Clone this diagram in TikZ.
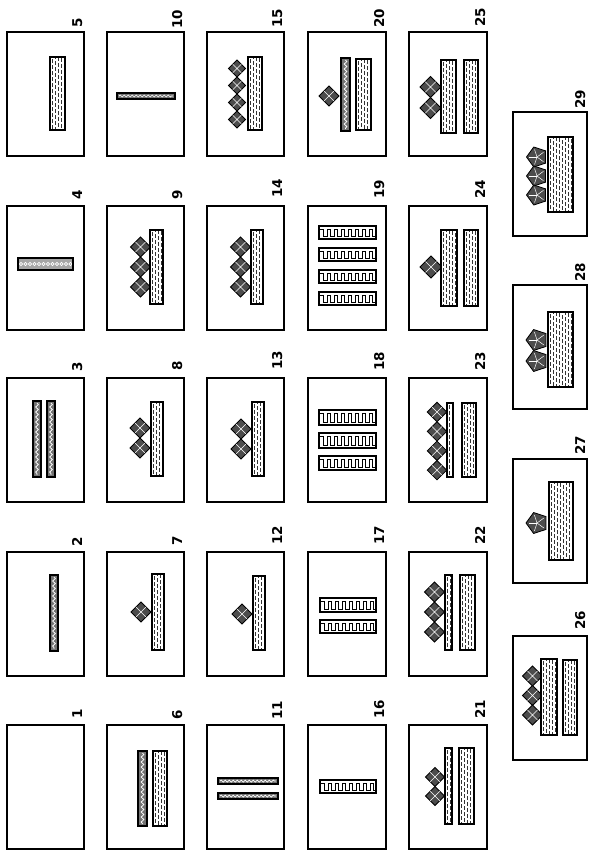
\documentclass[tikz,border=0pt]{standalone}
\usepackage{fontspec}
\setmainfont{DejaVu Sans}
\usetikzlibrary{decorations.pathmorphing}
\tikzset{
  pagebox/.style={draw, line width=2.4pt, minimum height=124pt, inner sep=0pt, outer sep=0pt, anchor=north west},
  stripline/.style={draw=black, line width=1.3pt},
  grain/.style={line width=0.8pt, dash pattern=on 3.5pt off 2.5pt, black!80},
  numlabel/.style={rotate=90, anchor=base west, inner sep=0pt, font=\bfseries\fontsize{13.5}{14}\selectfont},
  diamfill/.style={fill=black!70, draw=black, line width=0.8pt},
}
\newcommand\pagebx[5]{%
  \node[pagebox, minimum width=#4pt] (box#1) at (#2,#3) {};
  \node[numlabel] (num#1) at ({#2+#4-2},{#3-#5}) {#1};
}
\newcommand\woodstrip[4]{%
  \fill[white] (#1,#2) rectangle (#3,#4);
  \begin{scope}
    \clip (#1,#2) rectangle (#3,#4);
    \foreach \k in {1,...,9}{
      \draw[grain] ({#1+\k*3-0.5},{#2+1-mod(\k*5,7)}) -- ({#1+\k*3-0.5},{#4});
    }
  \end{scope}
  \draw[stripline] (#1,#2) rectangle (#3,#4);
}
\newcommand\darkstrip[4]{%
  \fill[black!55] (#1,#2) rectangle (#3,#4);
  \draw[white, line width=0.8pt, decorate, decoration={snake, segment length=5pt, amplitude=1.3pt}] ({(#1+#3)/2},{#2+2}) -- ({(#1+#3)/2},{#4-2});
  \draw[stripline] (#1,#2) rectangle (#3,#4);
}
\newcommand\hdark[4]{%
  \fill[black!55] (#1,#2) rectangle (#3,#4);
  \draw[white, line width=0.7pt, decorate, decoration={snake, segment length=4pt, amplitude=1pt}] ({#1+2},{(#2+#4)/2}) -- ({#3-2},{(#2+#4)/2});
  \draw[stripline] (#1,#2) rectangle (#3,#4);
}
\newcommand\combstrip[4]{%
  \fill[white] (#1,#2) rectangle (#3,#4);
  \begin{scope}
    \clip (#1,#2) rectangle (#3,#4);
    \foreach \k in {0,...,10}{
      \draw[line width=1pt] ({#1+1+\k*7},{#2+3}) -- ++(3.5,0) -- ++(0,{#4-#2-6}) -- ++(3.5,0) -- ++(0,{-(#4-#2-6)});
    }
  \end{scope}
  \draw[stripline] (#1,#2) rectangle (#3,#4);
}
\newcommand\dotstrip[4]{%
  \fill[black!35] (#1,#2) rectangle (#3,#4);
  \begin{scope}
    \clip (#1,#2) rectangle (#3,#4);
    \foreach \k in {0,...,12}{
      \draw[white, line width=0.7pt] ({#1+3+\k*4.5},{(#2+#4)/2}) circle (1.7pt);
    }
  \end{scope}
  \draw[stripline] (#1,#2) rectangle (#3,#4);
}
\newcommand\diam[3]{%
  \path[diamfill] ({#1-#3},{#2}) -- ({#1},{#2-#3}) -- ({#1+#3},{#2}) -- ({#1},{#2+#3}) -- cycle;
  \draw[white, line width=0.5pt] ({#1-#3/2},{#2-#3/2}) -- ({#1+#3/2},{#2+#3/2}) ({#1+#3/2},{#2-#3/2}) -- ({#1-#3/2},{#2+#3/2});
}
\newcommand\rosette[3]{%
  \path[diamfill] ({#1-#3},{#2}) -- ({#1+#3*cos(252)},{#2+#3*sin(252)}) -- ({#1+#3*cos(324)},{#2+#3*sin(324)}) -- ({#1+#3*cos(36)},{#2+#3*sin(36)}) -- ({#1+#3*cos(108)},{#2+#3*sin(108)}) -- cycle;
  \foreach \a in {180,252,324,36,108}{
    \draw[white, line width=0.5pt] ({#1},{#2}) -- ({#1+0.75*#3*cos(\a)},{#2+0.75*#3*sin(\a)});
  }
}
\newenvironment{inbox}[2]{\begin{scope}[shift={(#1,#2)}]}{\end{scope}}

\begin{document}
\begin{tikzpicture}[x=1pt,y=-1pt]
\useasboundingbox (0,0) rectangle (589,854);
\fill[white] (0,0) rectangle (589,854);

% column 1
\pagebx{1}{7}{725}{77}{6}
\pagebx{2}{7}{552}{77}{5}
\pagebx{3}{7}{378}{77}{6}
\pagebx{4}{7}{206}{77}{6}
\pagebx{5}{7}{32}{77}{4}
\begin{inbox}{7}{552}\darkstrip{43}{23}{51}{99}\end{inbox}
\begin{inbox}{7}{378}\darkstrip{26}{23}{34}{99}\darkstrip{40}{23}{48}{99}\end{inbox}
\begin{inbox}{7}{206}\dotstrip{11}{52}{66}{64}\end{inbox}
\begin{inbox}{7}{32}\woodstrip{43}{25}{58}{98}\end{inbox}

% column 2
\pagebx{6}{107}{725}{77}{5}
\pagebx{7}{107}{552}{77}{6}
\pagebx{8}{107}{378}{77}{7}
\pagebx{9}{107}{206}{77}{6}
\pagebx{10}{107}{32}{77}{3}
\begin{inbox}{107}{725}\darkstrip{31}{26}{40}{101}\woodstrip{46}{26}{60}{101}\end{inbox}
\begin{inbox}{107}{552}\diam{34}{60}{10}\woodstrip{45}{22}{57}{98}\end{inbox}
\begin{inbox}{107}{378}\diam{33}{50}{10}\diam{33}{70}{10}\woodstrip{44}{24}{56}{98}\end{inbox}
\begin{inbox}{107}{206}\diam{33.5}{41}{10}\diam{33.5}{61}{10}\diam{33.5}{81}{10}\woodstrip{43}{24}{56}{98}\end{inbox}
\begin{inbox}{107}{32}\hdark{10}{61}{68}{67}\end{inbox}

% column 3
\pagebx{11}{207}{725}{77}{5}
\pagebx{12}{207}{552}{77}{7}
\pagebx{13}{207}{378}{77}{8}
\pagebx{14}{207}{206}{77}{8}
\pagebx{15}{207}{32}{77}{4}
\begin{inbox}{207}{725}\hdark{11}{53}{71}{59}\hdark{11}{68}{71}{74}\end{inbox}
\begin{inbox}{207}{552}\diam{35}{62}{10}\woodstrip{46}{24}{58}{98}\end{inbox}
\begin{inbox}{207}{378}\diam{34}{51}{10}\diam{34}{71}{10}\woodstrip{45}{24}{57}{98}\end{inbox}
\begin{inbox}{207}{206}\diam{33.5}{41}{10}\diam{33.5}{61}{10}\diam{33.5}{81}{10}\woodstrip{44}{24}{56}{98}\end{inbox}
\begin{inbox}{207}{32}\diam{30}{36.5}{8.5}\diam{30}{53.5}{8.5}\diam{30}{70.5}{8.5}\diam{30}{87.5}{8.5}\woodstrip{41}{25}{55}{98}\end{inbox}

% column 4
\pagebx{16}{308}{725}{78}{6}
\pagebx{17}{308}{552}{78}{7}
\pagebx{18}{308}{378}{78}{7}
\pagebx{19}{308}{206}{78}{7}
\pagebx{20}{308}{32}{78}{4}
\begin{inbox}{308}{725}\combstrip{12}{55}{68}{68}\end{inbox}
\begin{inbox}{308}{552}\combstrip{12}{46}{68}{60}\combstrip{12}{68}{68}{81}\end{inbox}
\begin{inbox}{308}{378}\combstrip{11}{32}{68}{47}\combstrip{11}{55}{68}{70}\combstrip{11}{78}{68}{92}\end{inbox}
\begin{inbox}{308}{206}\combstrip{11}{20}{68}{33}\combstrip{11}{42}{68}{55}\combstrip{11}{64}{68}{77}\combstrip{11}{86}{68}{99}\end{inbox}
\begin{inbox}{308}{32}\diam{21}{64}{10}\darkstrip{33}{26}{42}{99}\woodstrip{48}{27}{63}{98}\end{inbox}

% column 5
\pagebx{21}{409}{725}{78}{6}
\pagebx{22}{409}{552}{78}{7}
\pagebx{23}{409}{378}{78}{7}
\pagebx{24}{409}{206}{78}{7}
\pagebx{25}{409}{32}{78}{5}
\begin{inbox}{409}{725}\diam{26}{52}{9.5}\diam{26}{71}{9.5}\woodstrip{36}{23}{43}{99}\woodstrip{50}{23}{65}{99}\end{inbox}
\begin{inbox}{409}{552}\diam{25.5}{40}{10}\diam{25.5}{60}{10}\diam{25.5}{80}{10}\woodstrip{36}{23}{43}{98}\woodstrip{51}{23}{66}{98}\end{inbox}
\begin{inbox}{409}{378}\diam{28}{34}{9.7}\diam{28}{53.4}{9.7}\diam{28}{72.8}{9.7}\diam{28}{92.2}{9.7}\woodstrip{38}{25}{44}{99}\woodstrip{53}{25}{67}{99}\end{inbox}
\begin{inbox}{409}{206}\diam{22}{61}{11}\woodstrip{32}{24}{48}{100}\woodstrip{55}{24}{69}{100}\end{inbox}
\begin{inbox}{409}{32}\diam{21.5}{55}{10.5}\diam{21.5}{76}{10.5}\woodstrip{32}{28}{47}{101}\woodstrip{55}{28}{69}{101}\end{inbox}

% column 6
\pagebx{26}{513}{636}{74}{6}
\pagebx{27}{513}{459}{74}{4}
\pagebx{28}{513}{285}{74}{3}
\pagebx{29}{513}{112}{74}{3}
\begin{inbox}{513}{636}\diam{19.5}{40}{10}\diam{19.5}{59.5}{10}\diam{19.5}{79}{10}\woodstrip{28}{23}{44}{99}\woodstrip{50}{24}{64}{99}\end{inbox}
\begin{inbox}{513}{459}\rosette{24}{64}{11}\woodstrip{36}{23}{60}{101}\end{inbox}
\begin{inbox}{513}{285}\rosette{24}{55}{11}\rosette{24}{76}{11}\woodstrip{35}{27}{60}{102}\end{inbox}
\begin{inbox}{513}{112}\rosette{24}{45}{10.5}\rosette{24}{64}{10.5}\rosette{24}{83}{10.5}\woodstrip{35}{25}{60}{100}\end{inbox}
\end{tikzpicture}
\end{document}
